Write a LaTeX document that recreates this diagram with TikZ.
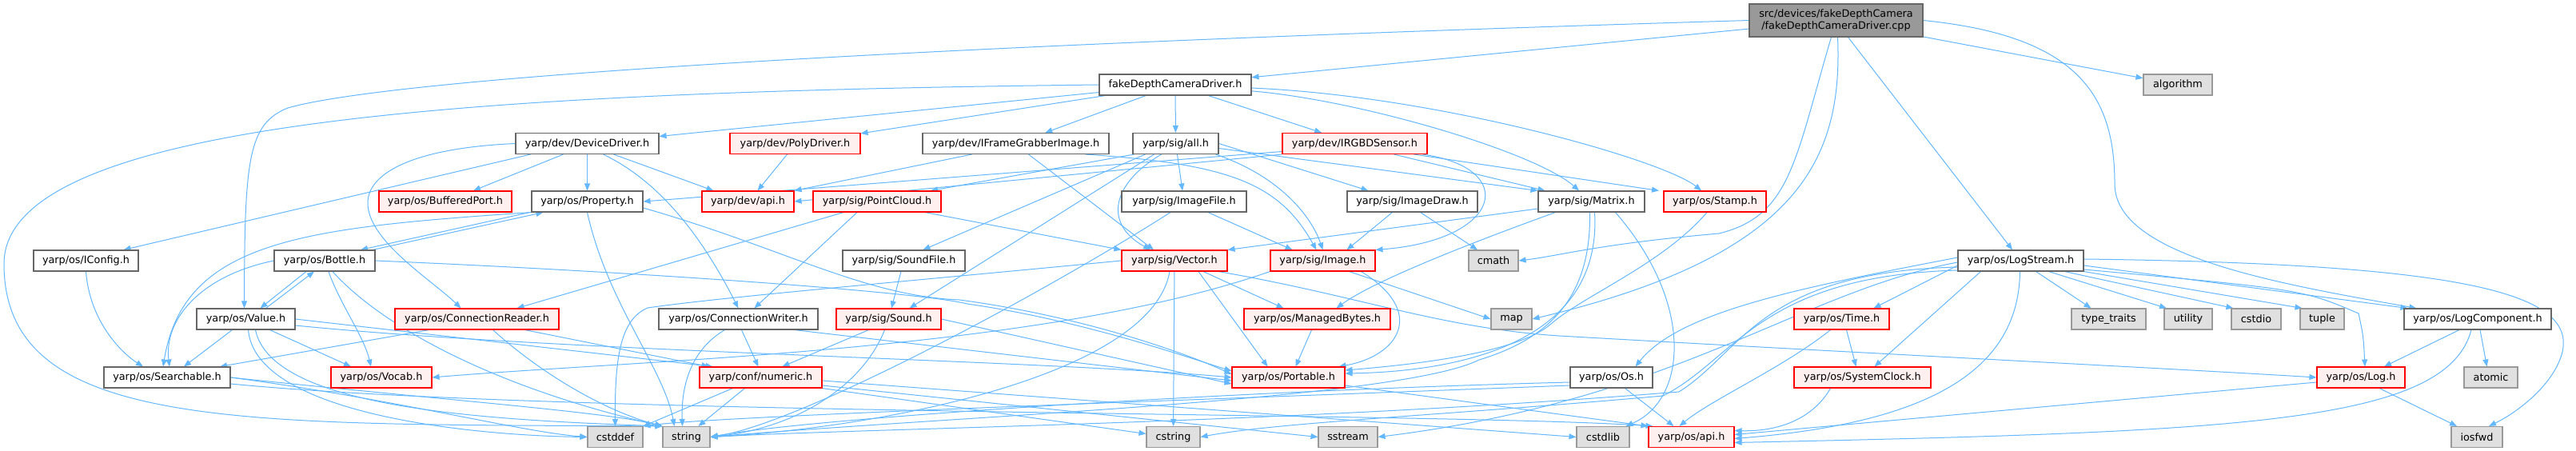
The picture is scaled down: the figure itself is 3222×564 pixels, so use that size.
\documentclass[tikz,border=0pt]{standalone}
\usepackage{fontspec}
\setmainfont{DejaVu Sans}
\usetikzlibrary{arrows.meta}
\definecolor{edgeblue}{HTML}{63B8FF}
\definecolor{nodegray}{HTML}{666666}
\definecolor{extgray}{HTML}{999999}
\definecolor{extfill}{HTML}{E0E0E0}
\definecolor{redfill}{HTML}{FFF0F0}
\definecolor{rootfill}{HTML}{999999}
\definecolor{redline}{HTML}{FF0000}
\pgfdeclarelayer{bgl}
\pgfdeclarelayer{edgel}
\pgfsetlayers{bgl,edgel,main}
\begin{document}
\begin{tikzpicture}[x=1pt,y=-1pt,
 nodebase/.style={line width=1.1pt, minimum height=26pt, inner sep=0pt, anchor=center, font=\fontsize{12.8}{15}\selectfont},
 boxn/.style={nodebase, draw=nodegray, fill=white},
 boxr/.style={nodebase, draw=redline, fill=redfill},
 boxx/.style={nodebase, draw=extgray, fill=extfill},
 boxroot/.style={nodebase, draw=nodegray, fill=rootfill, minimum height=41pt, align=center},
 incl/.style={draw=edgeblue, line width=1pt, -{Triangle[length=9pt,width=7pt]}}
]
\useasboundingbox (0,0) rectangle (3222,564);
\begin{pgfonlayer}{bgl}
\fill[white] (0,0) rectangle (3222,564);
\end{pgfonlayer}

% nodes
\node[boxroot, minimum width=217pt] (src) at (2296.5,25.5) {src/devices/fakeDepthCamera\\/fakeDepthCameraDriver.cpp};
\node[boxn, minimum width=190pt] (fdc) at (1470,106) {fakeDepthCameraDriver.h};
\node[boxx, minimum width=86pt] (alg) at (2724,106) {algorithm};
\node[boxn, minimum width=179pt] (dd) at (734.5,179.5) {yarp/dev/DeviceDriver.h};
\node[boxr, minimum width=163pt] (poly) at (994.5,179.5) {yarp/dev/PolyDriver.h};
\node[boxn, minimum width=233pt] (ifg) at (1270.5,179.5) {yarp/dev/IFrameGrabberImage.h};
\node[boxn, minimum width=107pt] (all) at (1470.5,179.5) {yarp/sig/all.h};
\node[boxr, minimum width=181pt] (irgbd) at (1694.5,179.5) {yarp/dev/IRGBDSensor.h};
\node[boxr, minimum width=166pt] (bport) at (557,252) {yarp/os/BufferedPort.h};
\node[boxn, minimum width=139pt] (prop) at (734.5,252) {yarp/os/Property.h};
\node[boxr, minimum width=115pt] (devapi) at (935.5,252) {yarp/dev/api.h};
\node[boxr, minimum width=160pt] (pc) at (1097,252) {yarp/sig/PointCloud.h};
\node[boxn, minimum width=156pt] (imgfile) at (1481,252) {yarp/sig/ImageFile.h};
\node[boxn, minimum width=163pt] (imgdraw) at (1766.5,252) {yarp/sig/ImageDraw.h};
\node[boxn, minimum width=133pt] (matrix) at (1990.5,252) {yarp/sig/Matrix.h};
\node[boxr, minimum width=128pt] (stamp) at (2145,252) {yarp/os/Stamp.h};
\node[boxn, minimum width=131pt] (iconfig) at (107.5,326) {yarp/os/IConfig.h};
\node[boxn, minimum width=126pt] (bottle) at (406,326) {yarp/os/Bottle.h};
\node[boxn, minimum width=153pt] (soundfile) at (1130.5,326) {yarp/sig/SoundFile.h};
\node[boxr, minimum width=132pt] (vector) at (1469,326) {yarp/sig/Vector.h};
\node[boxr, minimum width=131pt] (image) at (1654.5,326) {yarp/sig/Image.h};
\node[boxx, minimum width=62pt] (cmath) at (1868,326) {cmath};
\node[boxn, minimum width=157pt] (logstream) at (2527.5,326) {yarp/os/LogStream.h};
\node[boxn, minimum width=123pt] (value) at (307.5,399) {yarp/os/Value.h};
\node[boxr, minimum width=205pt] (creader) at (596.5,399) {yarp/os/ConnectionReader.h};
\node[boxn, minimum width=199pt] (cwriter) at (923.5,399) {yarp/os/ConnectionWriter.h};
\node[boxr, minimum width=131pt] (sound) at (1111.5,399) {yarp/sig/Sound.h};
\node[boxr, minimum width=183pt] (mbytes) at (1647.5,399) {yarp/os/ManagedBytes.h};
\node[boxx, minimum width=51pt] (map) at (1890.5,399) {map};
\node[boxr, minimum width=119pt] (time) at (2303.5,399) {yarp/os/Time.h};
\node[boxx, minimum width=93pt] (typetraits) at (2637.5,399) {type\_traits};
\node[boxx, minimum width=60pt] (utility) at (2737,399) {utility};
\node[boxx, minimum width=62pt] (cstdio) at (2822,399) {cstdio};
\node[boxx, minimum width=55pt] (tuple) at (2904.5,399) {tuple};
\node[boxn, minimum width=184pt] (logcomp) at (3099,399) {yarp/os/LogComponent.h};
\node[boxn, minimum width=158pt] (searchable) at (209,472) {yarp/os/Searchable.h};
\node[boxr, minimum width=126pt] (vocab) at (477,472) {yarp/os/Vocab.h};
\node[boxr, minimum width=153pt] (numeric) at (951.5,472) {yarp/conf/numeric.h};
\node[boxr, minimum width=141pt] (portable) at (1611.5,472) {yarp/os/Portable.h};
\node[boxn, minimum width=103pt] (os) at (2015.5,472) {yarp/os/Os.h};
\node[boxr, minimum width=171pt] (sysclock) at (2329.5,472) {yarp/os/SystemClock.h};
\node[boxr, minimum width=110pt] (log) at (2953,472) {yarp/os/Log.h};
\node[boxx, minimum width=67pt] (atomic) at (3115.5,472) {atomic};
\node[boxx, minimum width=69pt] (cstddef) at (769.5,546.5) {cstddef};
\node[boxx, minimum width=59pt] (string) at (858.5,546.5) {string};
\node[boxx, minimum width=67pt] (cstring) at (1467.5,546.5) {cstring};
\node[boxx, minimum width=74pt] (sstream) at (1686,546.5) {sstream};
\node[boxx, minimum width=66pt] (cstdlib) at (2005,546.5) {cstdlib};
\node[boxr, minimum width=107pt] (osapi) at (2115.5,546.5) {yarp/os/api.h};
\node[boxx, minimum width=64pt] (iosfwd) at (3098,546.5) {iosfwd};

\begin{pgfonlayer}{edgel}
% root
\draw[incl] (src) -- (fdc);
\draw[incl] (src) -- (alg);
\draw[incl] ([xshift=15pt]src.south) -- (logstream);
\draw[incl] (src.east) .. controls (2600,45) and (2645,120) .. (2645,230) .. controls (2645,320) and (2850,355) .. (logcomp);
\draw[incl] (src.west) .. controls (1200,55) and (500,95) .. (360,135) .. controls (310,155) and (306,200) .. ([xshift=-2pt]value.north);
\draw[incl] ([xshift=2pt]src.south) .. controls (2305,200) and (2250,320) .. (map.east);
\draw[incl] ([xshift=-6pt]src.south) .. controls (2245,200) and (2240,270) .. (2150,292) .. controls (2000,305) and (1950,320) .. (cmath.east);
% fdc
\draw[incl] (fdc) -- (dd);
\draw[incl] (fdc) -- (poly);
\draw[incl] (fdc) -- (ifg);
\draw[incl] (fdc) -- (all);
\draw[incl] (fdc) -- (irgbd);
\draw[incl] (fdc) .. controls (1700,125) and (1920,190) .. (matrix);
\draw[incl] (fdc) .. controls (1800,120) and (2080,200) .. (stamp);
\draw[incl] (fdc.west) .. controls (600,115) and (5,150) .. (5,330) .. controls (5,540) and (300,530) .. (string.north west);
% DeviceDriver
\draw[incl] ([xshift=-71pt]dd.south) -- ([xshift=47pt]iconfig.north);
\draw[incl] ([xshift=-30pt]dd.south) -- ([xshift=35pt]bport.north);
\draw[incl] (dd) -- (prop);
\draw[incl] (dd.west) .. controls (520,185) and (462,215) .. (460,252) .. controls (458,300) and (540,350) .. ([xshift=-20pt]creader.north);
\draw[incl] ([xshift=20pt]dd.south) .. controls (815,222) and (870,280) .. (cwriter.north);
\draw[incl] ([xshift=33pt]dd.south) -- ([xshift=-43pt]devapi.north);
% PolyDriver, IFrameGrabberImage
\draw[incl] ([xshift=-10pt]poly.south) -- ([xshift=12pt]devapi.north);
\draw[incl] ([xshift=-55pt]ifg.south) -- (devapi.north east);
\draw[incl] ([xshift=16pt]ifg.south) -- ([xshift=-26pt]vector.north);
\draw[incl] ([xshift=87pt]ifg.south) .. controls (1540,205) and (1600,230) .. ([xshift=-8pt]image.north);
% all.h
\draw[incl] ([xshift=-52pt]all.south) -- ([xshift=67pt]pc.north);
\draw[incl] ([xshift=-38pt]all.south) -- ([xshift=24pt]soundfile.north);
\draw[incl] ([xshift=-27pt]all.south) -- ([xshift=26pt]sound.north);
\draw[incl] (all) -- (imgfile);
\draw[incl] ([xshift=-18pt]all.south) .. controls (1390,230) and (1380,280) .. ([xshift=-30pt]vector.north);
\draw[incl] ([xshift=50pt]all.south) .. controls (1600,220) and (1640,270) .. (image.north);
\draw[incl] (all.east) -- ([xshift=-55pt]imgdraw.north);
\draw[incl] ([yshift=-6pt]all.east) -- (matrix.north west);
% IRGBDSensor
\draw[incl] ([yshift=-10pt]irgbd.west) -- (prop.east);
\draw[incl] (irgbd.south west) -- (devapi.east);
\draw[incl] ([xshift=49pt]irgbd.south) -- ([xshift=-58pt]matrix.north);
\draw[incl] ([xshift=74pt]irgbd.south) -- ([xshift=-70pt]stamp.north);
\draw[incl] ([xshift=85pt]irgbd.south) .. controls (1900,210) and (1880,300) .. (image.north east);
% Property / Bottle
\draw[incl] ([xshift=60pt]bottle.north) -- ([xshift=-55pt]prop.south);
\draw[incl] ([xshift=-72pt]prop.south) -- ([xshift=45pt]bottle.north);
\draw[incl] (prop.south west) .. controls (380,285) and (230,300) .. ([xshift=-5pt]searchable.north);
\draw[incl] (prop.south) .. controls (760,380) and (830,460) .. ([xshift=-15pt]string.north);
\draw[incl] ([yshift=-8pt]prop.east) .. controls (980,310) and (1080,370) .. (1200,375) .. controls (1350,395) and (1480,440) .. ([yshift=4pt]portable.west);
\draw[incl] ([xshift=-23pt]bottle.south) -- ([xshift=18pt]value.north);
\draw[incl] ([xshift=25pt]value.north) -- ([xshift=-13pt]bottle.south);
\draw[incl] (bottle.west) .. controls (250,345) and (205,400) .. ([xshift=3pt]searchable.north);
\draw[incl] ([xshift=5pt]bottle.south) .. controls (425,380) and (455,420) .. ([xshift=-13pt]vocab.north);
\draw[incl] ([xshift=10pt]bottle.south) .. controls (470,400) and (600,480) .. (string.north west);
\draw[incl] (bottle.east) .. controls (800,340) and (1150,365) .. (1210,380) .. controls (1350,400) and (1480,445) .. ([yshift=8pt]portable.west);
% Value
\draw[incl] ([xshift=-17pt]value.south) -- ([xshift=21pt]searchable.north);
\draw[incl] ([xshift=30pt]value.south) -- ([xshift=-38pt]vocab.north);
\draw[incl] ([xshift=3pt]value.south) .. controls (320,520) and (600,545) .. (cstddef.west);
\draw[incl] ([xshift=12pt]value.south) .. controls (340,510) and (600,525) .. (string.north west);
\draw[incl] (value.east) -- ([xshift=-60pt]numeric.north);
\draw[incl] ([yshift=-8pt]value.east) .. controls (700,440) and (1300,450) .. (portable.west);
% Searchable, IConfig
\draw[incl] (searchable.east) .. controls (500,500) and (650,540) .. (cstddef.west);
\draw[incl] (searchable.east) .. controls (550,500) and (760,515) .. (string.north west);
\draw[incl] ([yshift=-8pt]searchable.east) .. controls (700,520) and (1800,515) .. ([xshift=6pt]osapi.north west);
\draw[incl] (iconfig.south) .. controls (112,400) and (150,440) .. ([xshift=-30pt]searchable.north);
% ConnectionReader / Writer
\draw[incl] ([xshift=-60pt]creader.south) -- ([xshift=66pt]searchable.north);
\draw[incl] ([xshift=20pt]creader.south) .. controls (680,470) and (760,515) .. (string.north west);
\draw[incl] ([xshift=60pt]creader.south) -- ([xshift=-65pt]numeric.north);
\draw[incl] ([xshift=-17pt]cwriter.south) .. controls (860,440) and (852,490) .. ([xshift=-5pt]string.north);
\draw[incl] ([xshift=4pt]cwriter.south) -- ([xshift=-3pt]numeric.north);
\draw[incl] ([xshift=70pt]cwriter.south) -- ([yshift=-4pt]portable.west);
% Sound
\draw[incl] ([xshift=-25pt]sound.south) -- ([xshift=27pt]numeric.north);
\draw[incl] ([xshift=-5pt]sound.south) .. controls (1080,480) and (1000,535) .. (string.east);
\draw[incl] (sound.east) -- ([yshift=-8pt]portable.west);
\draw[incl] (soundfile) -- (sound);
% PointCloud
\draw[incl] ([xshift=-42pt]pc.south) -- ([xshift=50pt]creader.north);
\draw[incl] ([xshift=-25pt]pc.south) -- ([xshift=20pt]cwriter.north);
\draw[incl] ([xshift=60pt]pc.south) -- (vector.north west);
% ImageFile, ImageDraw
\draw[incl] ([xshift=30pt]imgfile.south) -- ([xshift=-38pt]image.north);
\draw[incl] ([xshift=-17pt]imgfile.south) .. controls (1300,370) and (1000,530) .. (string.east);
\draw[incl] ([xshift=-25pt]imgdraw.south) -- ([xshift=30pt]image.north);
\draw[incl] ([xshift=10pt]imgdraw.south) -- ([xshift=-20pt]cmath.north);
% Matrix
\draw[incl] ([yshift=-9pt]matrix.west) -- (vector.north east);
\draw[incl] ([xshift=-45pt]matrix.south) .. controls (1850,300) and (1720,350) .. ([xshift=24pt]mbytes.north);
\draw[incl] ([xshift=4pt]matrix.south) .. controls (2005,440) and (1800,465) .. ([yshift=5pt]portable.east);
\draw[incl] ([xshift=-2pt]matrix.south) .. controls (1990,360) and (1950,420) .. (1850,450) .. controls (1750,500) and (1200,520) .. (string.east);
\draw[incl] ([xshift=30pt]matrix.south) .. controls (2120,380) and (2110,500) .. ([xshift=-5pt]cstdlib.north east);
% Stamp
\draw[incl] ([xshift=-10pt]stamp.south) .. controls (2080,330) and (1980,370) .. (1940,405) .. controls (1900,440) and (1780,455) .. ([yshift=9pt]portable.east);
% Vector
\draw[incl] ([xshift=30pt]vector.south) -- ([xshift=-26pt]portable.north);
\draw[incl] ([xshift=36pt]vector.south) -- ([xshift=-42pt]mbytes.north);
\draw[incl] (vector) -- (cstring);
\draw[incl] ([xshift=-6pt]vector.south) .. controls (1440,470) and (1100,535) .. (string.east);
\draw[incl] (vector.west) .. controls (1100,355) and (900,372) .. (810,385) .. controls (775,400) and (769,450) .. (cstddef.north);
\draw[incl] ([xshift=55pt]vector.south) .. controls (1700,370) and (1800,410) .. (1950,420) .. controls (2300,440) and (2700,460) .. (log.west);
% Image
\draw[incl] ([xshift=33pt]image.south) -- (map.west);
\draw[incl] ([xshift=48pt]image.south) .. controls (1785,390) and (1750,445) .. ([xshift=-8pt]portable.north east);
\draw[incl] (image.south west) .. controls (1300,440) and (800,450) .. (vocab.east);
% ManagedBytes, Portable, Os
\draw[incl] ([xshift=-7pt]mbytes.south) -- ([xshift=9pt]portable.north);
\draw[incl] ([yshift=-10pt]portable.east) -- (osapi.north west);
\draw[incl] ([xshift=17pt]os.south) -- ([xshift=-22pt]osapi.north);
\draw[incl] ([yshift=-6pt]os.west) .. controls (1500,490) and (1000,525) .. (string.east);
\draw[incl] ([yshift=-10pt]os.west) .. controls (1500,500) and (900,520) .. (cstddef.north east);
% numeric
\draw[incl] ([xshift=-20pt]numeric.south) -- ([xshift=15pt]string.north);
\draw[incl] ([xshift=-35pt]numeric.south) -- (cstddef.north east);
\draw[incl] (numeric.south east) -- ([yshift=4pt]cstring.west);
\draw[incl] ([yshift=-10pt]numeric.east) -- (sstream.west);
\draw[incl] ([yshift=-4pt]numeric.east) -- (cstdlib.west);
% LogStream
\draw[incl] ([xshift=19pt]logstream.south) -- ([xshift=-22pt]typetraits.north);
\draw[incl] ([xshift=35pt]logstream.south) -- ([xshift=-27pt]utility.north);
\draw[incl] ([xshift=55pt]logstream.south) -- ([xshift=3pt]cstdio.north west);
\draw[incl] (logstream.south east) -- ([xshift=3pt]tuple.north west);
\draw[incl] ([yshift=-6pt]logstream.east) -- ([xshift=5pt]logcomp.north west);
\draw[incl] ([yshift=-11pt]logstream.east) .. controls (2880,362) .. (2950,392) .. controls (2956,420) .. ([xshift=5pt]log.north);
\draw[incl] ([yshift=2pt]logstream.east) .. controls (3100,330) and (3220,370) .. (3205,440) .. controls (3195,480) and (3150,515) .. ([xshift=15pt]iosfwd.north);
\draw[incl] ([xshift=-50pt]logstream.south) -- ([xshift=15pt]sysclock.north);
\draw[incl] ([yshift=-6pt]logstream.west) -- ([xshift=40pt]time.north);
\draw[incl] ([yshift=4pt]logstream.west) .. controls (2250,360) and (2100,390) .. ([xshift=30pt]os.north);
\draw[incl] ([xshift=-1pt]logstream.south) .. controls (2525,470) and (2400,530) .. ([yshift=-2pt]osapi.east);
\draw[incl] ([yshift=-2pt]logstream.west) .. controls (2250,365) and (2100,500) .. (sstream.east);
\draw[incl] ([yshift=-8pt]logstream.west) .. controls (2200,340) and (2180,440) .. (2100,490) .. controls (1600,530) and (1100,535) .. (string.east);
\draw[incl] ([yshift=-12pt]logstream.west) .. controls (2200,345) and (2170,450) .. (2080,495) .. controls (1800,520) and (1600,528) .. (cstring.east);
% LogComponent, Log
\draw[incl] ([xshift=-23pt]logcomp.south) -- ([xshift=29pt]log.north);
\draw[incl] ([xshift=3pt]logcomp.south) -- ([xshift=-5pt]atomic.north);
\draw[incl] ([xshift=-8pt]logcomp.south) .. controls (3060,530) and (2800,540) .. ([yshift=-7pt]osapi.east);
\draw[incl] ([yshift=-6pt]log.west) -- ([yshift=3pt]osapi.east);
\draw[incl] ([xshift=23pt]log.south) -- ([xshift=-25pt]iosfwd.north);
% Time, SystemClock
\draw[incl] ([xshift=6pt]time.south) -- ([xshift=-8pt]sysclock.north);
\draw[incl] ([xshift=-14pt]time.south) .. controls (2230,460) and (2140,500) .. ([xshift=-15pt]osapi.north);
\draw[incl] ([xshift=-40pt]sysclock.south) .. controls (2270,520) and (2230,540) .. ([yshift=8pt]osapi.east);
\end{pgfonlayer}
\end{tikzpicture}
\end{document}
